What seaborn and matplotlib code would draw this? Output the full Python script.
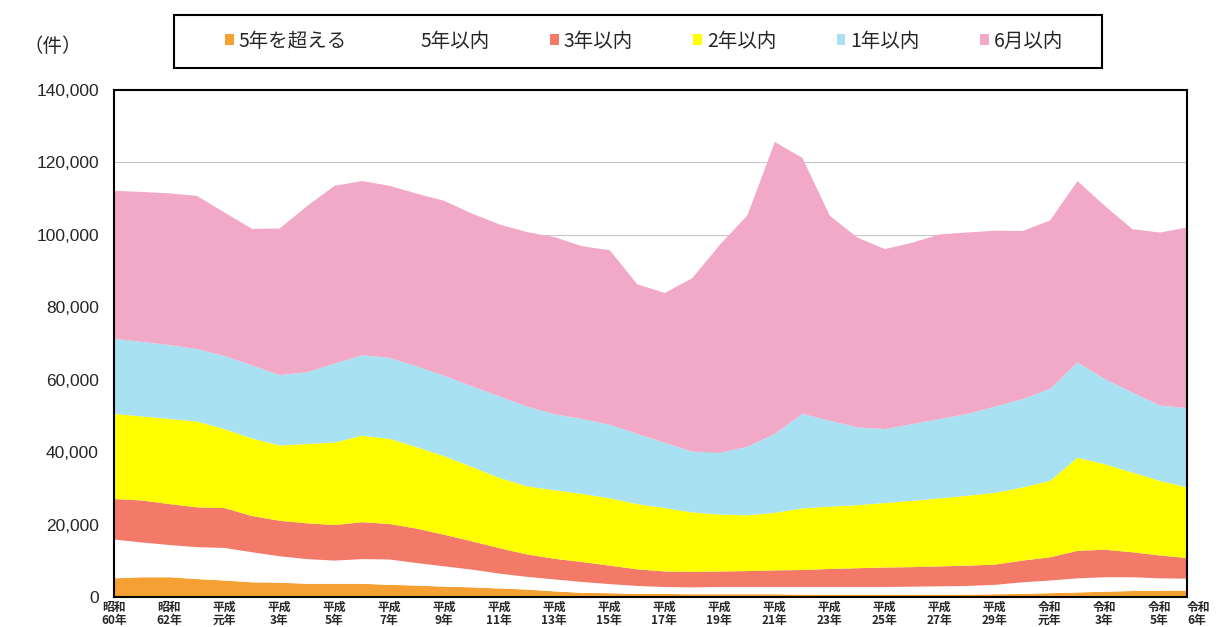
import numpy as np
import pandas as pd
import matplotlib
matplotlib.use("Agg")
import matplotlib.pyplot as plt
from matplotlib.patches import Patch, Rectangle
from matplotlib.ticker import FuncFormatter
import seaborn as sns

# years 昭和60年 (1985) .. 令和6年 (2024)
years = list(range(1985, 2025))

# pending cases by duration (件)
over_5y = [5300, 5600, 5600, 5100, 4700, 4200, 4100, 3800, 3800, 3800,
           3500, 3300, 3000, 2800, 2500, 2200, 1700, 1300, 1200, 1000,
           1000, 900, 900, 900, 900, 800, 800, 800, 800, 800,
           800, 800, 900, 1000, 1200, 1400, 1600, 1800, 1900, 1900]
within_5y = [10700, 9600, 8900, 8800, 9000, 8300, 7300, 6800, 6400, 6800,
             7000, 6200, 5600, 4900, 4100, 3500, 3300, 3000, 2500, 2200,
             1900, 1900, 2000, 2000, 2000, 2100, 2100, 2100, 2100, 2200,
             2300, 2400, 2600, 3200, 3500, 3900, 4000, 3800, 3400, 3300]
within_3y = [11200, 11600, 11300, 11000, 11000, 10000, 9800, 9900, 9800, 10200,
             9800, 9500, 8700, 7800, 7000, 6200, 5700, 5500, 5100, 4600,
             4300, 4300, 4300, 4400, 4600, 4700, 5000, 5200, 5400, 5400,
             5500, 5600, 5600, 6000, 6400, 7600, 7600, 6900, 6300, 5700]
within_2y = [23500, 23200, 23500, 23700, 21800, 21400, 20800, 21900, 22800, 23900,
             23500, 22500, 21700, 20500, 19400, 18800, 18900, 18800, 18600, 18000,
             17500, 16400, 15700, 15400, 15900, 17000, 17200, 17400, 17800, 18300,
             18800, 19300, 19800, 20200, 21100, 25700, 23600, 22000, 20600, 19500]
within_1y = [20700, 20600, 20400, 20000, 20200, 20200, 19400, 19800, 21800, 22200,
             22400, 22300, 22200, 22300, 22500, 22000, 21000, 20700, 20300, 19400,
             18000, 16800, 17100, 18900, 21800, 26100, 23700, 21500, 20400, 21200,
             21900, 22600, 23800, 24400, 25400, 26300, 23500, 22100, 20800, 21900]
within_6m = [40900, 41400, 41900, 42300, 39600, 37700, 40500, 45900, 49100, 48100,
             47500, 47700, 48300, 47700, 47500, 48200, 48900, 47700, 48200, 41300,
             41400, 47900, 57400, 63900, 80600, 70700, 56600, 52400, 49700, 50100,
             51000, 50100, 48600, 46400, 46500, 50100, 47800, 45100, 47800, 49900]

series_names = ["5年を超える", "5年以内", "3年以内", "2年以内", "1年以内", "6月以内"]
series_colors = ["#F5A032", "#FFFFFF", "#F37A68", "#FFFF00", "#A8E2F2", "#F2A9C8"]

tick_years = [1985, 1987] + list(range(1989, 2024, 2)) + [2024]
tick_labels = (["昭和\n60年", "昭和\n62年", "平成\n元年"]
               + ["平成\n%d年" % n for n in range(3, 30, 2)]
               + ["令和\n元年", "令和\n3年", "令和\n5年", "令和\n6年"])

df = pd.DataFrame({"year": years, "5年を超える": over_5y, "5年以内": within_5y,
                   "3年以内": within_3y, "2年以内": within_2y,
                   "1年以内": within_1y, "6月以内": within_6m})

sns.set_theme(style="white")
plt.rcParams["font.family"] = ["Noto Sans CJK JP", "DejaVu Sans"]

fig = plt.figure(figsize=(12.17, 6.27), dpi=100)
ax = fig.add_axes([0.0937, 0.0478, 0.8817, 0.8086])

ax.stackplot(df["year"], [df[c] for c in series_names],
             colors=series_colors, linewidth=0)

ax.set_xlim(1985, 2024)
ax.set_ylim(0, 140000)
ax.set_yticks(range(0, 140001, 20000))
ax.yaxis.set_major_formatter(FuncFormatter(lambda v, p: f"{int(v):,}"))
ax.set_xticks(tick_years)
ax.set_xticklabels(tick_labels, fontsize=8.5, fontweight="bold", linespacing=1.0)
ax.get_xticklabels()[-1].set_ha("left")
for lab in ax.get_yticklabels():
    lab.set_family(["Liberation Sans", "DejaVu Sans"])
    lab.set_fontsize(12.5)

ax.tick_params(axis="y", direction="in", length=5, width=1.3, color="black", pad=11)
ax.tick_params(axis="x", direction="in", length=3, width=1.3, color="black", pad=3)

ax.set_axisbelow(True)
ax.grid(axis="y", color="#c8c8c8", linewidth=0.8)
ax.grid(axis="x", visible=False)
for s in ax.spines.values():
    s.set_color("black")
    s.set_linewidth(1.5)

fig.text(0.043, 0.926, "（件）", fontsize=14, ha="center", va="center")

# legend box drawn separately so its padding matches the original
fig.patches.append(Rectangle((0.143, 0.8915), 0.7625, 0.0845, transform=fig.transFigure,
                             facecolor="white", edgecolor="black", linewidth=1.5, zorder=0))
handles = [Patch(facecolor=c, edgecolor="none") for c in series_colors]
fig.legend(handles, series_names, loc="center", bbox_to_anchor=(0.529, 0.9346),
           ncol=6, fontsize=14, frameon=False,
           handlelength=0.45, handleheight=0.45, handletextpad=0.25,
           columnspacing=3.1)

fig.savefig("out.png", dpi=100)
